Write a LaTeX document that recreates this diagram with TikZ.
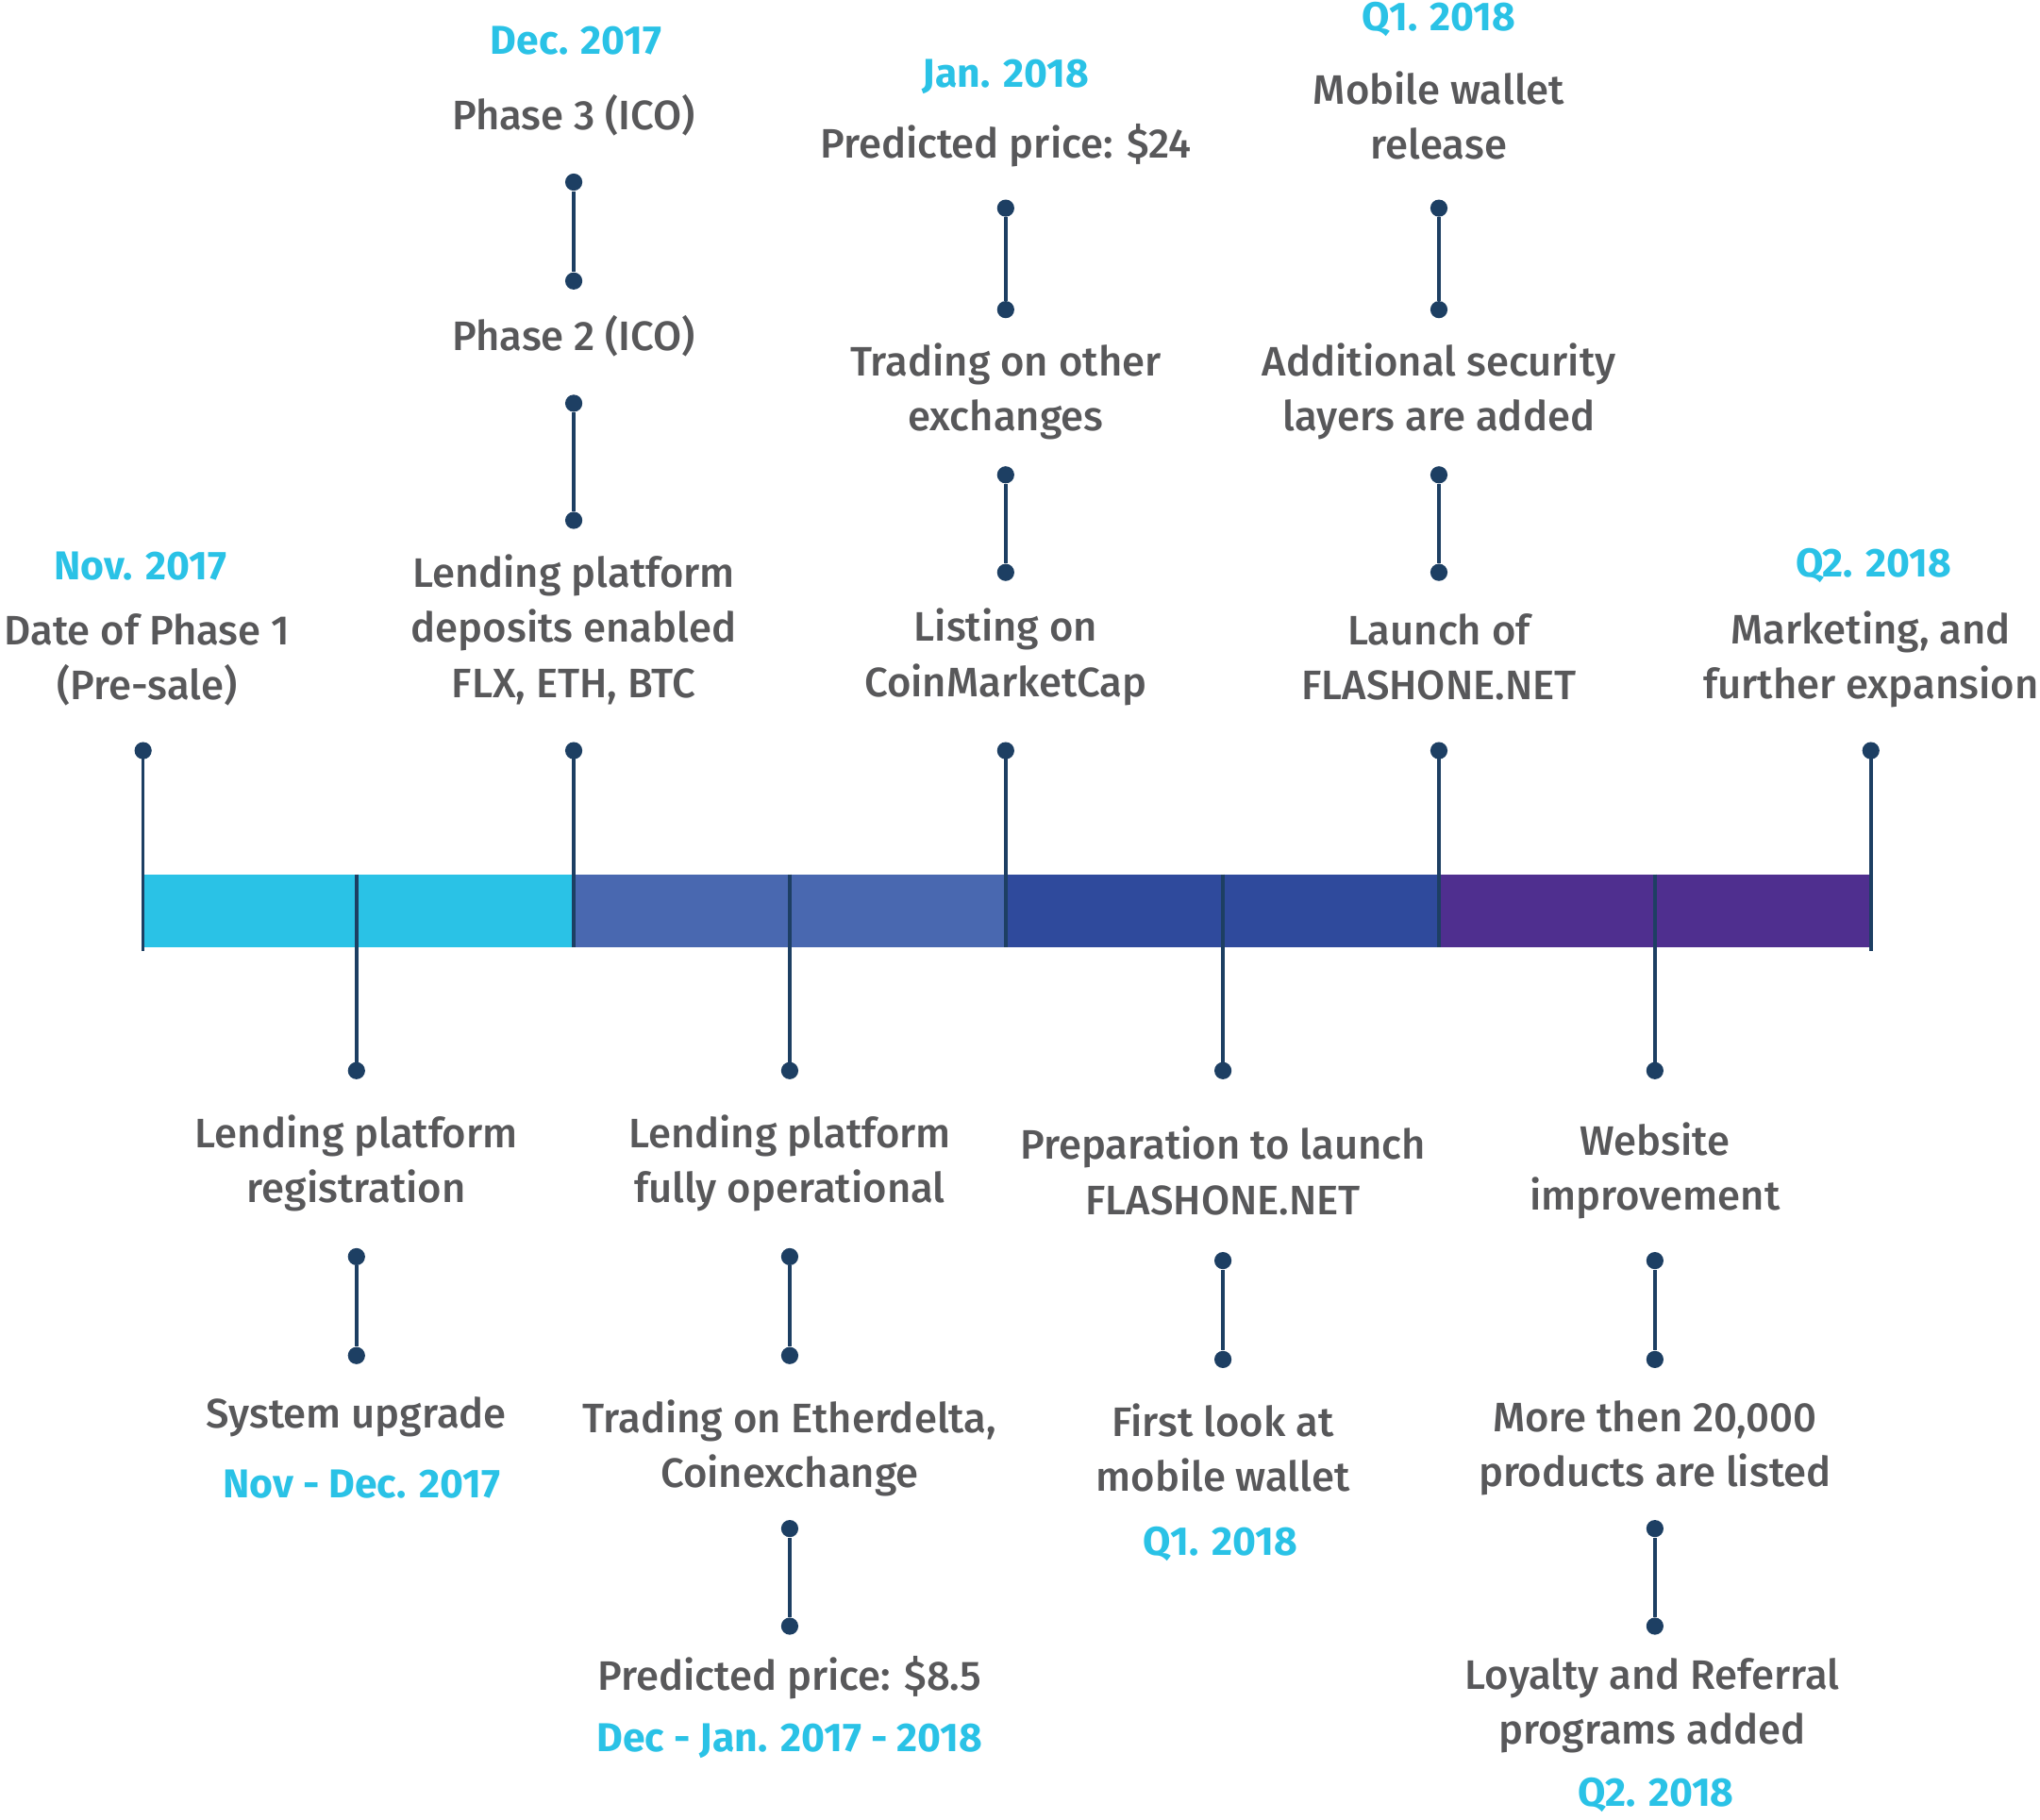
\documentclass[tikz,border=0pt]{standalone}
\usepackage{fontspec}
\setmainfont{Fira Sans}[UprightFont=* Medium, BoldFont=* Bold]
\usetikzlibrary{positioning}
\definecolor{navy}{HTML}{1D3F63}
\definecolor{txtgray}{HTML}{58585A}
\definecolor{skyblue}{HTML}{2AC2E6}
\definecolor{steel}{HTML}{4968B0}
\definecolor{royal}{HTML}{2F4A9C}
\definecolor{grape}{HTML}{4F2F8F}

\begin{document}
\begin{tikzpicture}[x=0.025cm, y=-0.025cm,
  every node/.style={inner sep=0pt},
  dot/.style={circle, fill=navy, minimum size=3.3mm},
  txt/.style={text=txtgray, align=center, font=\fontsize{22.5}{30}\selectfont},
  when/.style={text=skyblue, font=\fontsize{22}{30}\selectfont\bfseries},
  link/.style={navy, line width=1.8pt}
]
\useasboundingbox (0,0) rectangle (1568,1399);

% timeline bar
\fill[skyblue] (110,672) rectangle (441,728);
\fill[steel] (441,672) rectangle (773,728);
\fill[royal] (773,672) rectangle (1106,728);
\fill[grape] (1106,672) rectangle (1438,728);

% upper milestones
\node[when] (nov) at (108,435) {Nov. 2017};
\node[txt] (presale) at (113,507) {Date of Phase 1\\(Pre-sale)};
\node[dot] (up1) at (110,577) {};
\coordinate (bar1) at (110,731);

\node[when] (dec) at (443,31) {Dec. 2017};
\node[txt] (phase3) at (441,89) {Phase 3 (ICO)};
\node[dot] (ph3a) at (441,140) {};
\node[dot] (ph3b) at (441,216) {};
\node[txt] (phase2) at (441,258) {Phase 2 (ICO)};
\node[dot] (ph2a) at (441,310) {};
\node[dot] (ph2b) at (441,400) {};
\node[txt] (deposits) at (441,484) {Lending platform\\deposits enabled\\FLX, ETH, BTC};
\node[dot] (up2) at (441,577) {};
\coordinate (bar2) at (441,728);

\node[when] (jan) at (773,59) {Jan. 2018};
\node[txt] (price24) at (773,112) {Predicted price: \$24};
\node[dot] (pra) at (773,160) {};
\node[dot] (prb) at (773,238) {};
\node[txt] (others) at (773,301) {Trading on other\\exchanges};
\node[dot] (oxa) at (773,365) {};
\node[dot] (oxb) at (773,440) {};
\node[txt] (cmc) at (773,505) {Listing on\\CoinMarketCap};
\node[dot] (up3) at (773,577) {};
\coordinate (bar3) at (773,728);

\node[when] (qone) at (1106,15) {Q1. 2018};
\node[txt] (wallet) at (1106,89) {Mobile wallet\\release};
\node[dot] (mwa) at (1106,160) {};
\node[dot] (mwb) at (1106,238) {};
\node[txt] (security) at (1106,301) {Additional security\\layers are added};
\node[dot] (sea) at (1106,365) {};
\node[dot] (seb) at (1106,440) {};
\node[txt] (launch) at (1106,505) {Launch of\\FLASHONE.NET};
\node[dot] (up4) at (1106,577) {};
\coordinate (bar4) at (1106,728);

\node[when] (qtwo) at (1440,435) {Q2. 2018};
\node[txt] (marketing) at (1438,507) {Marketing, and\\further expansion};
\node[dot] (up5) at (1438,577) {};
\coordinate (bar5) at (1438,731);

% lower milestones
\coordinate (top1) at (274,672);
\node[dot] (lo1) at (274,823) {};
\node[txt] (registration) at (274,894) {Lending platform\\registration};
\node[dot] (rga) at (274,966) {};
\node[dot] (rgb) at (274,1042) {};
\node[txt] (upgrade) at (274,1089) {System upgrade};
\node[when] (novdec) at (278,1141) {Nov - Dec. 2017};

\coordinate (top2) at (607,672);
\node[dot] (lo2) at (607,823) {};
\node[txt] (operational) at (607,894) {Lending platform\\fully operational};
\node[dot] (opa) at (607,966) {};
\node[dot] (opb) at (607,1042) {};
\node[txt] (etherdelta) at (607,1113) {Trading on Etherdelta,\\Coinexchange};
\node[dot] (eda) at (607,1175) {};
\node[dot] (edb) at (607,1250) {};
\node[txt] (price85) at (607,1290) {Predicted price: \$8.5};
\node[when] (decjan) at (607,1338) {Dec - Jan. 2017 - 2018};

\coordinate (top3) at (940,672);
\node[dot] (lo3) at (940,823) {};
\node[txt] (prep) at (940,900) {Preparation to launch\\FLASHONE.NET};
\node[dot] (ppa) at (940,969) {};
\node[dot] (ppb) at (940,1045) {};
\node[txt] (firstlook) at (940,1113) {First look at\\mobile wallet};
\node[when] (qoneb) at (938,1187) {Q1. 2018};

\coordinate (top4) at (1272,672);
\node[dot] (lo4) at (1272,823) {};
\node[txt] (website) at (1272,900) {Website\\improvement};
\node[dot] (wba) at (1272,969) {};
\node[dot] (wbb) at (1272,1045) {};
\node[txt] (products) at (1272,1113) {More then 20,000\\products are listed};
\node[dot] (lya) at (1272,1175) {};
\node[dot] (lyb) at (1272,1250) {};
\node[txt] (loyalty) at (1270,1311) {Loyalty and Referral\\programs added};
\node[when] (qtwob) at (1273,1380) {Q2. 2018};

% stems
\draw[link] (up1.center) -- (bar1);
\draw[link] (up2.center) -- (bar2);
\draw[link] (up3.center) -- (bar3);
\draw[link] (up4.center) -- (bar4);
\draw[link] (up5.center) -- (bar5);
\draw[link] (top1) -- (lo1.center);
\draw[link] (top2) -- (lo2.center);
\draw[link] (top3) -- (lo3.center);
\draw[link] (top4) -- (lo4.center);

% connectors
\draw[link] (ph3a) -- (ph3b);
\draw[link] (ph2a) -- (ph2b);
\draw[link] (pra) -- (prb);
\draw[link] (oxa) -- (oxb);
\draw[link] (mwa) -- (mwb);
\draw[link] (sea) -- (seb);
\draw[link] (rga) -- (rgb);
\draw[link] (opa) -- (opb);
\draw[link] (eda) -- (edb);
\draw[link] (ppa) -- (ppb);
\draw[link] (wba) -- (wbb);
\draw[link] (lya) -- (lyb);
\end{tikzpicture}
\end{document}
